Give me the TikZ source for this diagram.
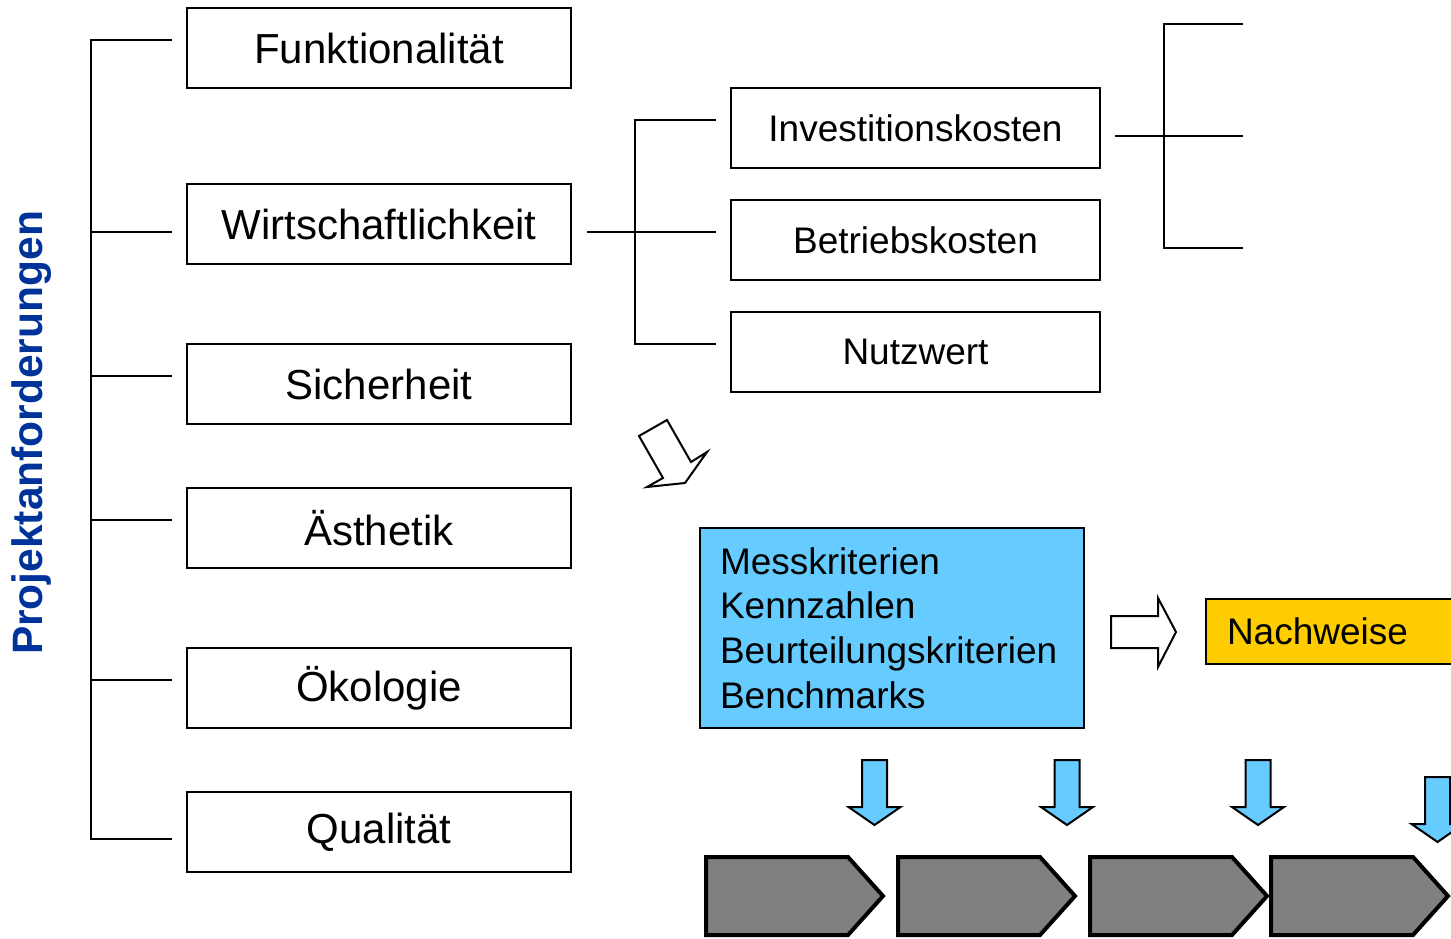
\documentclass[tikz,border=0pt]{standalone}
\usepackage{fontspec}
\setmainfont{Liberation Sans}
\definecolor{titleblue}{RGB}{0,51,153}
\definecolor{skyblue}{RGB}{102,204,255}
\definecolor{gold}{RGB}{255,204,0}
\definecolor{chevgray}{RGB}{128,128,128}
\tikzset{
  leftbox/.style={draw, line width=2.2pt, minimum width=384pt, minimum height=80pt, inner sep=0pt, font=\fontsize{42}{48}\selectfont},
  midbox/.style={draw, line width=2pt, minimum width=369pt, minimum height=80pt, inner sep=0pt, font=\fontsize{37}{44}\selectfont},
  brack/.style={line width=2.5pt},
  hollow/.style={draw, line width=2pt, fill=white, line join=miter},
  bluearrow/.style={draw, line width=2pt, fill=skyblue, line join=miter},
  chev/.style={draw, line width=4pt, fill=chevgray, line join=miter},
}
\begin{document}
\begin{tikzpicture}[x=1pt,y=-1pt]
\useasboundingbox (0,0) rectangle (1451,939);
% title
\node[rotate=90, text=titleblue, font=\bfseries\fontsize{42.5}{48}\selectfont] (title) at (32,433) {Projektanforderungen};
% left boxes
\node[leftbox] (funk) at (379,48) {Funktionalität};
\node[leftbox] (wirt) at (379,224) {Wirtschaftlichkeit};
\node[leftbox] (sich) at (379,384) {Sicherheit};
\node[leftbox] (aest) at (379,528) {Ästhetik};
\node[leftbox] (oeko) at (379,688) {Ökologie};
\node[leftbox] (qual) at (379,832) {Qualität};
% left bracket
\coordinate (lt) at (91,40);
\coordinate (lb) at (91,839);
\draw[brack] (172,40) -- (lt) -- (lb) -- (172,839);
\foreach \y in {232,376,520,680} \draw[brack] (91,\y) -- (172,\y);
% mid boxes
\node[midbox] (inv) at (915.5,128) {Investitionskosten};
\node[midbox] (betr) at (915.5,240) {Betriebskosten};
\node[midbox] (nutz) at (915.5,352) {Nutzwert};
% mid bracket
\coordinate (wr) at (587,232);
\draw[brack] (wr) -- (716,232);
\draw[brack] (716,120) -- (635,120) -- (635,344) -- (716,344);
% right bracket
\coordinate (ir) at (1115,136);
\draw[brack] (ir) -- (1243,136);
\draw[brack] (1243,24) -- (1164,24) -- (1164,248) -- (1243,248);
% hollow arrow down-right
\draw[hollow] (639,436) -- (667,420) -- (691,462) -- (707,452) -- (685,483) -- (647,487) -- (663,478) -- cycle;
% blue box
\node[draw, line width=2pt, fill=skyblue, minimum width=384pt, minimum height=200pt, inner ysep=0pt, inner xsep=20pt, text width=344pt, align=left, font=\fontsize{37}{44.7}\selectfont] (mess) at (892,628) {Messkriterien\\Kennzahlen\\Beurteilungskriterien\\Benchmarks};
% hollow arrow right
\draw[hollow] (1111,616) -- (1158,616) -- (1158,598) -- (1176,632) -- (1158,667) -- (1158,648) -- (1111,648) -- cycle;
% Nachweise box
\node[draw, line width=2pt, fill=gold, anchor=north west, minimum height=65pt, inner ysep=0pt, inner xsep=21pt, text width=240pt, align=left, font=\fontsize{37}{44}\selectfont] (nach) at (1205,598) {Nachweise};
% blue down arrows
\foreach \x/\t in {874.5/760, 1067/760, 1258/760, 1437.5/777}{
  \draw[bluearrow] (\x-12.5,\t) -- (\x+12.5,\t) -- (\x+12.5,\t+47) -- (\x+26,\t+47) -- (\x,\t+65) -- (\x-26,\t+47) -- (\x-12.5,\t+47) -- cycle;
}
% chevrons
\foreach \x in {706,898,1090,1271}{
  \draw[chev] (\x,857) -- (\x+142,857) -- (\x+177,896) -- (\x+142,935) -- (\x,935) -- cycle;
}
\end{tikzpicture}
\end{document}
